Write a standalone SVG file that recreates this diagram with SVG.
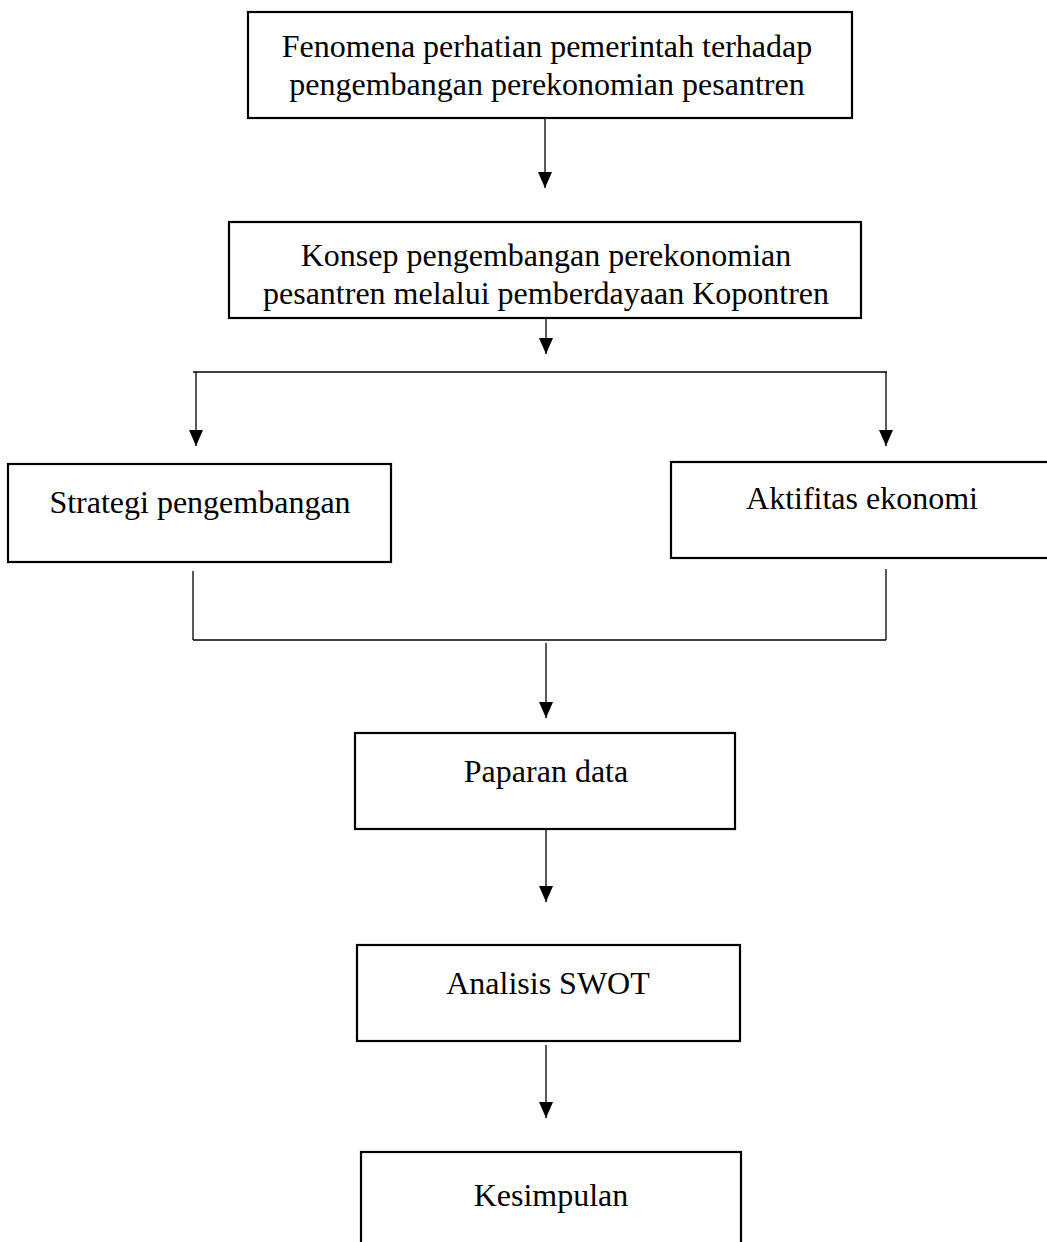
<svg xmlns="http://www.w3.org/2000/svg" width="1047" height="1242" viewBox="0 0 1047 1242">
<style>
.box{fill:#fff;stroke:#000;stroke-width:2.2}
.t{font-family:"Liberation Serif","Times New Roman",serif;font-size:32px;fill:#000;text-anchor:middle}
.c{stroke:#000;stroke-width:1.3;fill:none}
</style>
<defs>
<marker id="ah" markerUnits="userSpaceOnUse" markerWidth="16" markerHeight="14" refX="16" refY="7" orient="auto">
<path d="M0,0 L16,7 L0,14 z" fill="#000"/>
</marker>
</defs>
<rect width="1047" height="1242" fill="#fff"/>
<g id="connectors">
<line class="c" x1="545" y1="118" x2="545" y2="188" marker-end="url(#ah)"/>
<line class="c" x1="546" y1="318" x2="546" y2="354" marker-end="url(#ah)"/>
<line class="c" x1="193" y1="372" x2="887" y2="372"/>
<line class="c" x1="196" y1="372" x2="196" y2="446" marker-end="url(#ah)"/>
<line class="c" x1="886" y1="372" x2="886" y2="446" marker-end="url(#ah)"/>
<line class="c" x1="193" y1="571" x2="193" y2="640"/>
<line class="c" x1="886" y1="569" x2="886" y2="640"/>
<line class="c" x1="193" y1="640" x2="886" y2="640"/>
<line class="c" x1="546" y1="643" x2="546" y2="718" marker-end="url(#ah)"/>
<line class="c" x1="546" y1="829" x2="546" y2="902" marker-end="url(#ah)"/>
<line class="c" x1="546" y1="1045" x2="546" y2="1118" marker-end="url(#ah)"/>
</g>
<g id="n1">
<rect class="box" x="248" y="12" width="604" height="106"/>
<text class="t" x="547" y="57">Fenomena perhatian pemerintah terhadap</text>
<text class="t" x="547" y="95">pengembangan perekonomian pesantren</text>
</g>
<g id="n2">
<rect class="box" x="229" y="222" width="632" height="96"/>
<text class="t" x="546" y="266">Konsep pengembangan perekonomian</text>
<text class="t" x="546" y="304">pesantren melalui pemberdayaan Kopontren</text>
</g>
<g id="n3">
<rect class="box" x="8" y="464" width="383" height="98"/>
<text class="t" x="200" y="513">Strategi pengembangan</text>
</g>
<g id="n4">
<rect class="box" x="671" y="462" width="390" height="96"/>
<text class="t" x="862" y="509">Aktifitas ekonomi</text>
</g>
<g id="n5">
<rect class="box" x="355" y="733" width="380" height="96"/>
<text class="t" x="546" y="782">Paparan data</text>
</g>
<g id="n6">
<rect class="box" x="357" y="945" width="383" height="96"/>
<text class="t" x="548" y="994">Analisis SWOT</text>
</g>
<g id="n7">
<rect class="box" x="361" y="1152" width="380" height="110"/>
<text class="t" x="551" y="1206">Kesimpulan</text>
</g>
</svg>
